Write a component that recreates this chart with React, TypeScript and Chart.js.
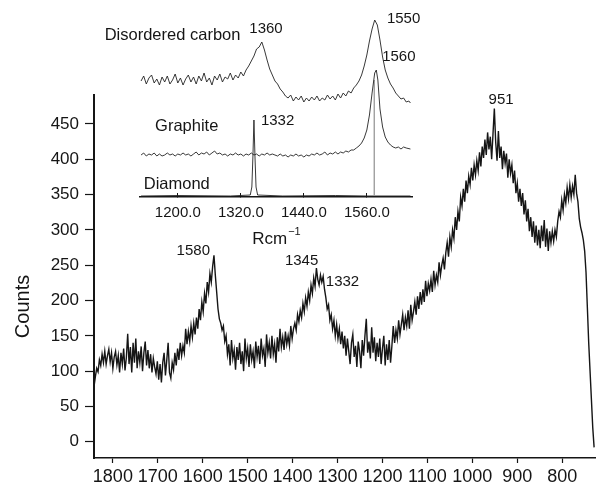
import React, { useEffect, useRef } from 'react';
import { Chart, registerables } from 'chart.js';
Chart.register(...registerables);

const FONT = '"Liberation Sans", Arial, Helvetica, sans-serif';
const INK = '#151515';

// ---------- main spectrum ----------
const MAIN_X_TICKS = [1800, 1700, 1600, 1500, 1400, 1300, 1200, 1100, 1000, 900, 800];
const MAIN_Y_TICKS = [0, 50, 100, 150, 200, 250, 300, 350, 400, 450];
const Y_TITLE = 'Counts';

// [Raman shift (cm-1), counts]
const SPECTRUM: [number, number][] = [
  [1842, 78], [1839, 92], [1836, 104], [1833, 99], [1830, 116], [1827, 108], [1824, 124], [1821, 112], [1818, 128], [1815, 110],
  [1812, 122], [1809, 131], [1806, 113], [1803, 126], [1800, 104], [1797, 120], [1794, 128], [1791, 109], [1788, 122], [1785, 98],
  [1782, 126], [1779, 110], [1776, 132], [1773, 101], [1770, 119], [1767, 153], [1764, 110], [1761, 134], [1758, 98], [1755, 140],
  [1752, 112], [1749, 146], [1746, 104], [1743, 128], [1740, 112], [1737, 135], [1734, 100], [1731, 126], [1728, 142], [1725, 108],
  [1722, 130], [1719, 104], [1716, 124], [1713, 98], [1710, 118], [1707, 106], [1704, 96], [1701, 114], [1698, 88], [1695, 110],
  [1692, 84], [1689, 112], [1686, 126], [1683, 94], [1680, 116], [1677, 140], [1674, 98], [1671, 90], [1668, 112], [1665, 102],
  [1662, 126], [1659, 108], [1656, 132], [1653, 116], [1650, 140], [1647, 122], [1644, 136], [1641, 126], [1638, 160], [1635, 138],
  [1632, 156], [1629, 142], [1626, 164], [1623, 148], [1620, 168], [1617, 152], [1614, 176], [1611, 160], [1608, 188], [1605, 172],
  [1602, 198], [1599, 184], [1596, 210], [1593, 196], [1590, 226], [1587, 212], [1584, 238], [1581, 226], [1578, 248], [1575, 264],
  [1572, 236], [1569, 212], [1566, 188], [1563, 174], [1560, 168], [1557, 158], [1554, 164], [1551, 142], [1548, 150], [1545, 124],
  [1542, 138], [1539, 108], [1536, 144], [1533, 118], [1530, 130], [1527, 102], [1524, 134], [1521, 116], [1518, 140], [1515, 110],
  [1512, 128], [1509, 100], [1506, 146], [1503, 118], [1500, 132], [1497, 106], [1494, 138], [1491, 116], [1488, 128], [1485, 104],
  [1482, 142], [1479, 120], [1476, 136], [1473, 110], [1470, 146], [1467, 122], [1464, 132], [1461, 106], [1458, 152], [1455, 126],
  [1452, 140], [1449, 118], [1446, 150], [1443, 124], [1440, 138], [1437, 112], [1434, 148], [1431, 128], [1428, 160], [1425, 134],
  [1422, 148], [1419, 130], [1416, 156], [1413, 138], [1410, 150], [1407, 136], [1404, 164], [1401, 146], [1398, 160], [1395, 168],
  [1392, 158], [1389, 180], [1386, 170], [1383, 186], [1380, 176], [1377, 196], [1374, 184], [1371, 204], [1368, 192], [1365, 212],
  [1362, 200], [1359, 222], [1356, 210], [1353, 232], [1350, 220], [1347, 246], [1344, 230], [1341, 222], [1338, 236], [1335, 226],
  [1332, 234], [1329, 216], [1326, 204], [1323, 188], [1320, 194], [1317, 172], [1314, 180], [1311, 160], [1308, 172], [1305, 150],
  [1302, 166], [1299, 146], [1296, 160], [1293, 138], [1290, 156], [1287, 132], [1284, 150], [1281, 122], [1278, 146], [1275, 128],
  [1272, 110], [1269, 140], [1266, 152], [1263, 120], [1260, 136], [1257, 106], [1254, 142], [1251, 128], [1248, 104], [1245, 144],
  [1242, 122], [1239, 150], [1236, 174], [1233, 126], [1230, 142], [1227, 118], [1224, 162], [1221, 126], [1218, 148], [1215, 114],
  [1212, 140], [1209, 120], [1206, 146], [1203, 110], [1200, 132], [1197, 150], [1194, 108], [1191, 138], [1188, 116], [1185, 144],
  [1182, 112], [1179, 136], [1176, 164], [1173, 140], [1170, 158], [1167, 146], [1164, 172], [1161, 152], [1158, 166], [1155, 180],
  [1152, 158], [1149, 176], [1146, 164], [1143, 186], [1140, 160], [1137, 194], [1134, 172], [1131, 184], [1128, 198], [1125, 180],
  [1122, 206], [1119, 188], [1116, 212], [1113, 194], [1110, 216], [1107, 198], [1104, 228], [1101, 206], [1098, 224], [1095, 214],
  [1092, 230], [1089, 212], [1086, 242], [1083, 222], [1080, 236], [1077, 226], [1074, 254], [1071, 236], [1068, 250], [1065, 260],
  [1062, 244], [1059, 268], [1056, 282], [1053, 262], [1050, 290], [1047, 276], [1044, 300], [1041, 288], [1038, 318], [1035, 300],
  [1032, 326], [1029, 312], [1026, 346], [1023, 334], [1020, 358], [1017, 340], [1014, 370], [1011, 352], [1008, 376], [1005, 364],
  [1002, 388], [999, 370], [996, 392], [993, 378], [990, 398], [987, 384], [984, 410], [981, 390], [978, 418], [975, 402],
  [972, 428], [969, 406], [966, 438], [963, 414], [960, 432], [957, 400], [954, 436], [951, 472], [948, 424], [945, 398],
  [942, 440], [939, 402], [936, 418], [933, 386], [930, 412], [927, 394], [924, 408], [921, 374], [918, 400], [915, 380],
  [912, 392], [909, 366], [906, 384], [903, 352], [900, 366], [897, 340], [894, 358], [891, 334], [888, 352], [885, 322],
  [882, 342], [879, 312], [876, 330], [873, 298], [870, 318], [867, 290], [864, 312], [861, 282], [858, 306], [855, 278],
  [852, 300], [849, 274], [846, 306], [843, 284], [840, 314], [837, 276], [834, 302], [831, 270], [828, 298], [825, 282],
  [822, 298], [819, 284], [816, 300], [813, 290], [810, 312], [807, 326], [804, 318], [801, 342], [798, 328], [795, 350],
  [792, 338], [789, 360], [786, 344], [783, 364], [780, 346], [777, 362], [774, 350], [771, 378], [768, 352], [765, 340],
  [762, 316], [759, 304], [756, 296], [753, 286], [750, 270], [747, 240], [744, 190], [741, 140], [738, 100], [735, 60],
  [732, 20], [729, -8],
];

const MAIN_LABEL_TEXT = ['1580', '1345', '1332', '951'];
const MAIN_LABEL_X = [1621, 1380, 1289, 936];
const MAIN_LABEL_Y = [270, 256, 227, 484];

// ---------- inset ----------
const INSET_X_TICKS = [1200, 1320, 1440, 1560];
const INSET_X_TITLE = 'Rcm';
const INSET_X_TITLE_SUP = '\u22121';

// relative intensity (arbitrary units, traces offset vertically)
const DISORDERED: [number, number][] = [
  [1130, 116], [1135, 121], [1140, 113], [1145, 119], [1150, 122], [1155, 114], [1160, 118], [1165, 112],
  [1170, 120], [1175, 115], [1180, 121], [1185, 113], [1190, 117], [1195, 123], [1200, 114], [1205, 119],
  [1210, 112], [1215, 118], [1220, 122], [1225, 115], [1230, 120], [1235, 113], [1240, 121], [1245, 116],
  [1250, 124], [1255, 115], [1260, 119], [1265, 112], [1270, 121], [1275, 117], [1280, 123], [1285, 115],
  [1290, 120], [1295, 118], [1300, 124], [1305, 117], [1310, 122], [1315, 119], [1320, 125], [1325, 121],
  [1330, 127], [1335, 131], [1340, 136], [1345, 141], [1350, 148], [1355, 150], [1360, 155], [1365, 147],
  [1370, 137], [1375, 128], [1380, 122], [1385, 116], [1390, 113], [1395, 108], [1400, 105], [1405, 101],
  [1410, 99], [1415, 102], [1420, 96], [1425, 100], [1430, 97], [1435, 101], [1440, 95], [1445, 99],
  [1450, 96], [1455, 100], [1460, 97], [1465, 101], [1470, 96], [1475, 99], [1480, 97], [1485, 102],
  [1490, 98], [1495, 101], [1500, 97], [1505, 103], [1510, 99], [1515, 104], [1520, 101], [1525, 106],
  [1530, 104], [1535, 109], [1540, 112], [1545, 116], [1550, 122], [1555, 131], [1560, 142], [1565, 156],
  [1570, 168], [1575, 177], [1580, 172], [1585, 157], [1590, 140], [1595, 127], [1600, 119], [1605, 113],
  [1610, 109], [1615, 104], [1620, 101], [1625, 98], [1630, 99], [1635, 95], [1640, 96], [1643, 94],
];

const GRAPHITE: [number, number][] = [
  [1130, 42], [1135, 44], [1140, 41], [1145, 43], [1150, 42], [1155, 44], [1160, 41], [1165, 43],
  [1170, 41], [1175, 42], [1180, 44], [1185, 42], [1190, 43], [1195, 41], [1200, 43], [1205, 42],
  [1210, 44], [1215, 42], [1220, 43], [1225, 41], [1230, 43], [1235, 45], [1240, 42], [1245, 44],
  [1250, 43], [1255, 45], [1260, 42], [1265, 44], [1270, 46], [1275, 43], [1280, 44], [1285, 42],
  [1290, 43], [1295, 41], [1300, 43], [1305, 42], [1310, 44], [1315, 42], [1320, 43], [1325, 41],
  [1330, 43], [1335, 42], [1340, 44], [1345, 42], [1350, 43], [1355, 41], [1360, 43], [1365, 42],
  [1370, 44], [1375, 42], [1380, 43], [1385, 42], [1390, 41], [1395, 43], [1400, 41], [1405, 42],
  [1410, 40], [1415, 42], [1420, 41], [1425, 43], [1430, 41], [1435, 42], [1440, 40], [1445, 42],
  [1450, 41], [1455, 43], [1460, 42], [1465, 44], [1470, 42], [1475, 43], [1480, 45], [1485, 42],
  [1490, 44], [1495, 43], [1500, 45], [1505, 43], [1510, 45], [1515, 44], [1520, 46], [1525, 45],
  [1530, 47], [1535, 47], [1540, 49], [1545, 51], [1550, 54], [1555, 59], [1560, 67], [1565, 82],
  [1570, 104], [1575, 124], [1578, 127], [1581, 117], [1585, 88], [1590, 70], [1595, 60], [1600, 55],
  [1605, 52], [1610, 50], [1615, 49], [1620, 50], [1625, 48], [1630, 50], [1635, 49], [1643, 48],
];

const DIAMOND: [number, number][] = [
  [1130, 1], [1200, 1.5], [1300, 1], [1338, 2], [1341, 10], [1343, 40], [1345, 77], [1347, 40],
  [1349, 10], [1352, 2], [1400, 1], [1500, 1.5], [1560, 1], [1643, 1],
];

const MARKER_LINE: [number, number][] = [[1574, 2], [1574, 117]];

const INSET_NAME_TEXT = ['Disordered carbon', 'Graphite', 'Diamond'];
const INSET_NAME_X = [1190, 1217, 1198];
const INSET_NAME_Y = [162, 71, 13];
const INSET_PEAK_TEXT = ['1360', '1550', '1560', '1332'];
const INSET_PEAK_X = [1368, 1630, 1621, 1390];
const INSET_PEAK_Y = [168, 178, 140, 76];

const toXY = (arr: [number, number][]) => arr.map(([x, y]) => ({ x, y }));

type Lbl = { text: string; x: number; y: number; size: number };

const labelsPlugin = {
  id: 'textLabels',
  afterDraw(chart: any, _args: any, opts: any) {
    const { ctx, scales } = chart;
    ctx.save();
    ctx.fillStyle = INK;
    ctx.textAlign = 'center';
    ctx.textBaseline = 'middle';
    (opts.labels || []).forEach((l: Lbl) => {
      ctx.font = `${l.size}px ${FONT}`;
      ctx.fillText(l.text, scales.x.getPixelForValue(l.x), scales.y.getPixelForValue(l.y));
    });
    if (opts.yTitle) {
      const ca = chart.chartArea;
      ctx.translate(23, (ca.top + ca.bottom) / 2 + 30);
      ctx.rotate(-Math.PI / 2);
      ctx.font = `20px ${FONT}`;
      ctx.fillText(opts.yTitle, 0, 0);
    }
    if (opts.xTitle) {
      const ca = chart.chartArea;
      ctx.textAlign = 'left';
      ctx.font = `17px ${FONT}`;
      const w1 = ctx.measureText(opts.xTitle).width;
      ctx.font = `11px ${FONT}`;
      const w2 = ctx.measureText(opts.xTitleSup).width;
      const x0 = (ca.left + ca.right) / 2 - (w1 + w2) / 2;
      ctx.font = `17px ${FONT}`;
      ctx.fillText(opts.xTitle, x0, ca.bottom + 42);
      ctx.font = `11px ${FONT}`;
      ctx.fillText(opts.xTitleSup, x0 + w1 + 1, ca.bottom + 35);
    }
    ctx.restore();
  },
};

export default function App() {
  const mainRef = useRef<HTMLCanvasElement>(null);
  const insetRef = useRef<HTMLCanvasElement>(null);

  useEffect(() => {
    const mainLabels: Lbl[] = MAIN_LABEL_TEXT.map((t, i) => ({ text: t, x: MAIN_LABEL_X[i], y: MAIN_LABEL_Y[i], size: 15 }));
    const main = new Chart(mainRef.current!, {
      type: 'line',
      data: {
        datasets: [
          { data: toXY(SPECTRUM), borderColor: INK, borderWidth: 1.4, pointRadius: 0, tension: 0 },
        ],
      },
      options: {
        responsive: false,
        devicePixelRatio: 1,
        animation: false,
        layout: { padding: { top: 95, right: 3, left: 0, bottom: 0 } },
        plugins: {
          legend: { display: false },
          tooltip: { enabled: false },
          textLabels: { labels: mainLabels, yTitle: Y_TITLE },
        } as any,
        scales: {
          x: {
            type: 'linear',
            reverse: true,
            min: 727,
            max: 1842,
            afterBuildTicks: (s: any) => { s.ticks = MAIN_X_TICKS.map((v) => ({ value: v })); },
            afterFit: (s: any) => { s.height = 31; },
            ticks: {
              color: INK, font: { family: FONT, size: 18 }, autoSkip: false, maxRotation: 0, padding: 3,
              callback: (v: any) => String(v),
            },
            grid: { drawOnChartArea: false, drawTicks: true, tickLength: 5, tickColor: INK, tickWidth: 1.2 },
            border: { display: true, color: INK, width: 1.5 },
          },
          y: {
            type: 'linear',
            min: -23,
            max: 491,
            afterBuildTicks: (s: any) => { s.ticks = MAIN_Y_TICKS.map((v) => ({ value: v })); },
            afterFit: (s: any) => { s.width = 94; },
            ticks: { color: INK, font: { family: FONT, size: 17 }, padding: 6, callback: (v: any) => String(v) },
            grid: { drawOnChartArea: false, drawTicks: true, tickLength: 9, tickColor: INK, tickWidth: 1.2 },
            border: { display: true, color: INK, width: 2 },
          },
        },
      } as any,
      plugins: [labelsPlugin as any],
    });

    const insetLabels: Lbl[] = [
      ...INSET_NAME_TEXT.map((t, i) => ({ text: t, x: INSET_NAME_X[i], y: INSET_NAME_Y[i], size: 16.5 })),
      ...INSET_PEAK_TEXT.map((t, i) => ({ text: t, x: INSET_PEAK_X[i], y: INSET_PEAK_Y[i], size: 15 })),
    ];
    const inset = new Chart(insetRef.current!, {
      type: 'line',
      data: {
        datasets: [
          { data: toXY(DISORDERED), borderColor: '#222', borderWidth: 0.9, pointRadius: 0, tension: 0 },
          { data: toXY(GRAPHITE), borderColor: '#222', borderWidth: 0.9, pointRadius: 0, tension: 0 },
          { data: toXY(DIAMOND), borderColor: '#222', borderWidth: 0.9, pointRadius: 0, tension: 0 },
          { data: toXY(MARKER_LINE), borderColor: '#555', borderWidth: 0.8, pointRadius: 0, tension: 0 },
        ],
      },
      options: {
        responsive: false,
        devicePixelRatio: 1,
        animation: false,
        layout: { padding: { top: 10, right: 186, left: 140, bottom: 0 } },
        plugins: {
          legend: { display: false },
          tooltip: { enabled: false },
          textLabels: { labels: insetLabels, xTitle: INSET_X_TITLE, xTitleSup: INSET_X_TITLE_SUP },
        } as any,
        scales: {
          x: {
            type: 'linear',
            min: 1128,
            max: 1646,
            afterBuildTicks: (s: any) => { s.ticks = INSET_X_TICKS.map((v) => ({ value: v })); },
            afterFit: (s: any) => { s.height = 63; },
            ticks: {
              color: INK, font: { family: FONT, size: 15 }, autoSkip: false, maxRotation: 0, padding: 10.5,
              callback: (v: any) => Number(v).toFixed(1),
            },
            grid: { drawOnChartArea: false, drawTicks: true, tickLength: -4, tickColor: INK, tickWidth: 1 },
            border: { display: true, color: INK, width: 1.5 },
          },
          y: { display: false, min: 0, max: 187 },
        },
      } as any,
      plugins: [labelsPlugin as any],
    });

    return () => { main.destroy(); inset.destroy(); };
  }, []);

  return (
    <div style={{ position: 'fixed', left: 0, top: 0, width: 598, height: 489, background: '#fff' }}>
      <canvas ref={mainRef} width={598} height={489} style={{ position: 'absolute', left: 0, top: 0 }} />
      <canvas ref={insetRef} width={598} height={260} style={{ position: 'absolute', left: 0, top: 0 }} />
    </div>
  );
}
